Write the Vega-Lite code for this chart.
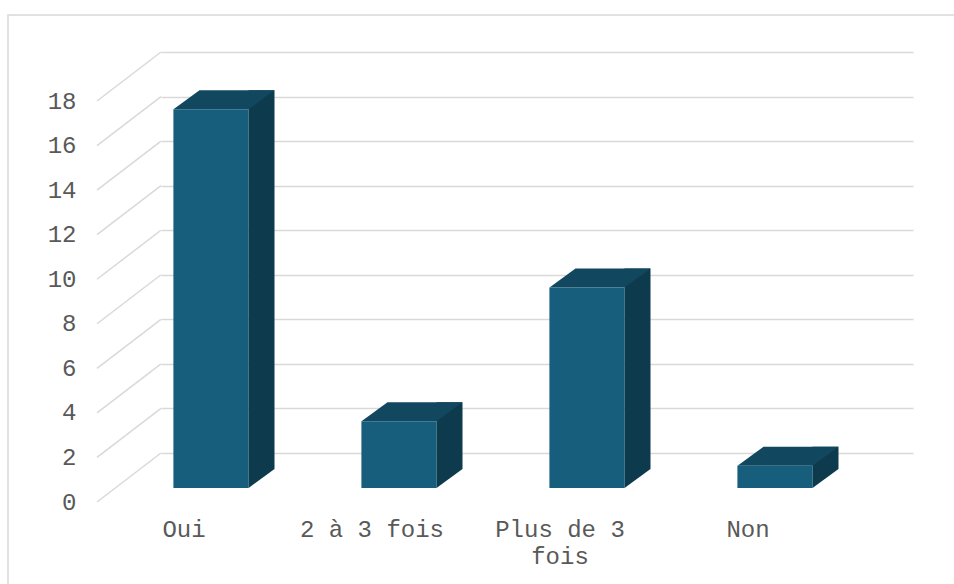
{
  "$schema": "https://vega.github.io/schema/vega-lite/v6.json",
  "width": 752,
  "height": 401,
  "autosize": {"type": "none"},
  "padding": {"left": 161, "top": 52, "right": 41, "bottom": 131},
  "background": "white",
  "config": {"view": {"stroke": null}},
  "datasets": {
    "answers": [
      {"reponse": "Oui", "nombre": 17},
      {"reponse": "2 à 3 fois", "nombre": 3},
      {"reponse": "Plus de 3 fois", "nombre": 9},
      {"reponse": "Non", "nombre": 1}
    ],
    "ticks": [
      {"t": 0}, {"t": 2}, {"t": 4}, {"t": 6}, {"t": 8},
      {"t": 10}, {"t": 12}, {"t": 14}, {"t": 16}, {"t": 18}
    ]
  },
  "data": {"name": "answers"},
  "encoding": {
    "x": {
      "field": "reponse",
      "type": "nominal",
      "sort": null,
      "scale": {"paddingInner": 0, "paddingOuter": 0},
      "axis": {
        "title": null,
        "domain": false,
        "ticks": false,
        "offset": 49,
        "labelOffset": -71,
        "labelPadding": 15,
        "labelAngle": 0,
        "labelFont": "Liberation Mono",
        "labelFontSize": 24,
        "labelColor": "#595959",
        "labelLineHeight": 27,
        "labelExpr": "datum.value == 'Plus de 3 fois' ? ['Plus de 3', 'fois'] : datum.label"
      }
    }
  },
  "layer": [
    {
      "data": {"values": [{}]},
      "mark": {"type": "rect", "filled": false, "stroke": "#d9d9d9", "strokeWidth": 1.5},
      "encoding": {
        "x": {"value": -153},
        "x2": {"value": 820},
        "y": {"value": -37},
        "y2": {"value": 560}
      }
    },
    {
      "data": {"name": "ticks"},
      "mark": {"type": "rule", "color": "#d9d9d9", "strokeWidth": 1.5, "x2Offset": -64, "y2Offset": 49},
      "encoding": {
        "x": {"value": 0},
        "x2": {"value": 0},
        "y": {"field": "t", "type": "quantitative", "scale": {"domain": [0, 18], "nice": false},
          "axis": {
            "title": null,
            "values": [0, 2, 4, 6, 8, 10, 12, 14, 16, 18],
            "domain": false,
            "ticks": false,
            "grid": true,
            "gridColor": "#d9d9d9",
            "gridWidth": 1.5,
            "offset": 64,
            "labelOffset": 49,
            "labelPadding": 21,
            "labelFont": "Liberation Mono",
            "labelFontSize": 24,
            "labelColor": "#595959"
          }
        },
        "y2": {"field": "t"}
      }
    },
    {
      "mark": {"type": "bar", "width": 26, "color": "#0e3a4d", "xOffset": 6.5, "x2Offset": 6.5, "yOffset": 16, "y2Offset": 16},
      "encoding": {
        "y": {"field": "nombre", "type": "quantitative"}
      }
    },
    {
      "mark": {"type": "point", "shape": "M0,0L0,-19L26,-19Z", "size": 4, "filled": true, "opacity": 1, "strokeWidth": 0, "color": "#0e3a4d", "xOffset": -6.5, "yOffset": 35},
      "encoding": {
        "y": {"datum": 0, "type": "quantitative"}
      }
    },
    {
      "mark": {"type": "point", "shape": "M0,0L75,0L101,-19L26,-19Z", "size": 4, "filled": true, "opacity": 1, "strokeWidth": 0, "color": "#124760", "xOffset": -81.5, "yOffset": 35},
      "encoding": {
        "y": {"field": "nombre", "type": "quantitative"}
      }
    },
    {
      "mark": {"type": "bar", "width": {"band": 0.4}, "color": "#175e7c", "xOffset": -44, "x2Offset": -44, "yOffset": 35, "y2Offset": 35},
      "encoding": {
        "y": {"field": "nombre", "type": "quantitative"}
      }
    }
  ]
}
